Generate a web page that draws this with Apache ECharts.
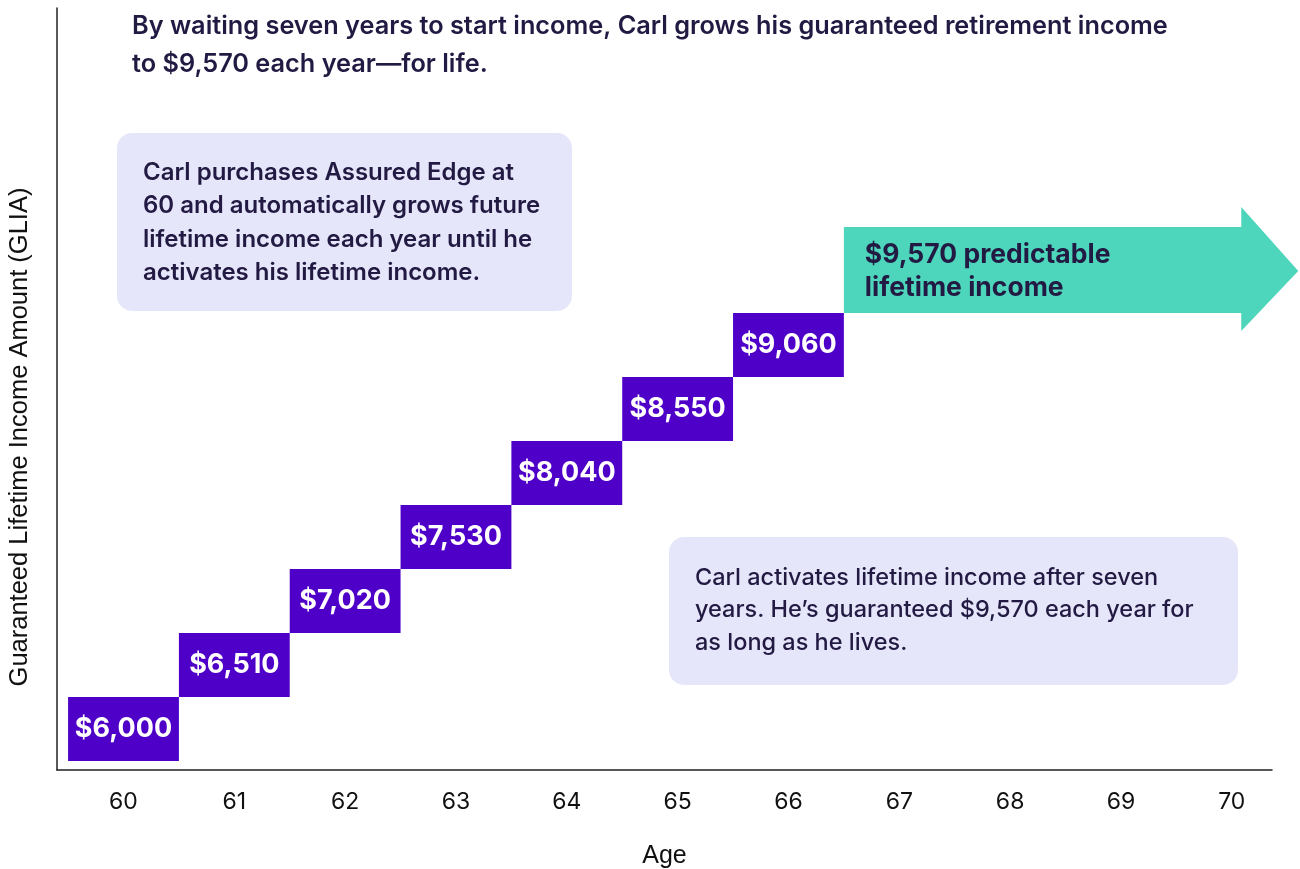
<!DOCTYPE html>
<html>
<head>
<meta charset="utf-8">
<script src="https://cdn.jsdelivr.net/npm/echarts@6/dist/echarts.min.js"></script>
<style>
  html, body { margin: 0; padding: 0; background: #fff; }
  #chart { width: 1300px; height: 869px; }
</style>
</head>
<body>
<div id="chart"></div>
<script>
// ages on the x axis and Carl's guaranteed income at each age
const ages = [60, 61, 62, 63, 64, 65, 66, 67, 68, 69, 70];
const stairAges = [60, 61, 62, 63, 64, 65, 66];
const stairIncome = [6000, 6510, 7020, 7530, 8040, 8550, 9060];
const lifetimeIncome = 9570;

const FONT = 'Inter, "Noto Sans", sans-serif';
const PLAIN = '"Liberation Sans", Arial, sans-serif';
const INK = '#221a42';
const PURPLE = '#4f00c8';
const TEAL = '#4dd6bc';
const LAVENDER = '#e6e6fa';

const fmt = v => '$' + v.toLocaleString('en-US');
const step = stairIncome[1] - stairIncome[0];

const chart = echarts.init(document.getElementById('chart'));

chart.setOption({
  animation: false,
  grid: { left: 57, right: 28, top: 8, bottom: 99, outerBoundsMode: 'none', containLabel: false },
  xAxis: {
    type: 'value',
    min: 59.4,
    max: 70.363,
    name: 'Age',
    nameLocation: 'middle',
    nameGap: 74,
    nameTextStyle: { color: '#111', fontSize: 25, fontFamily: PLAIN },
    axisLine: { show: true, lineStyle: { color: '#222', width: 1.5 } },
    axisTick: { show: false },
    splitLine: { show: false },
    axisLabel: {
      customValues: ages,
      margin: 21,
      color: '#111',
      fontSize: 23,
      fontFamily: FONT
    }
  },
  yAxis: {
    type: 'value',
    min: 5418,
    max: 11490,
    axisLine: { show: true, lineStyle: { color: '#222', width: 1.5 } },
    axisTick: { show: false },
    axisLabel: { show: false },
    splitLine: { show: false }
  },
  series: [
    {
      // stair-step boxes, one per year of deferral
      type: 'custom',
      data: stairAges.map((a, i) => [a, stairIncome[i]]),
      renderItem: (params, api) => {
        const a = api.value(0), v = api.value(1);
        const i = params.dataIndex;
        const prev = i > 0 ? stairIncome[i - 1] : v - step;
        const p1 = api.coord([a - 0.5, v]);
        const p2 = api.coord([a + 0.5, prev]);
        return {
          type: 'rect',
          shape: { x: p1[0], y: p1[1], width: p2[0] - p1[0], height: p2[1] - p1[1] },
          style: { fill: PURPLE },
          textContent: {
            style: { text: fmt(v), fill: '#fff', font: 'bold 27px ' + FONT }
          },
          textConfig: { position: 'inside' }
        };
      }
    },
    {
      // lifetime income arrow starting after the last deferral year
      type: 'custom',
      clip: false,
      data: [[stairAges[stairAges.length - 1] + 1, lifetimeIncome]],
      renderItem: (params, api) => {
        const a = api.value(0);
        const left = api.coord([a - 0.5, 0])[0];
        const tip = api.coord([70.6, 0])[0];
        const bottom = api.coord([0, stairIncome[stairIncome.length - 1]])[1];
        const top = bottom - 86;
        const neck = tip - 57;
        return {
          type: 'group',
          children: [
            {
              type: 'polygon',
              shape: {
                points: [
                  [left, top], [neck, top], [neck, top - 20], [tip, (top + bottom) / 2 + 1],
                  [neck, bottom + 18], [neck, bottom], [left, bottom]
                ]
              },
              style: { fill: TEAL }
            },
            {
              type: 'text',
              x: left + 21,
              y: (top + bottom) / 2 + 2,
              style: {
                text: fmt(api.value(1)) + ' predictable\nlifetime income',
                fill: INK,
                font: 'bold 26.5px ' + FONT,
                lineHeight: 33,
                verticalAlign: 'middle'
              }
            }
          ]
        };
      }
    }
  ],
  graphic: [
    {
      type: 'text',
      left: 132,
      top: 7,
      style: {
        text: 'By waiting seven years to start income, Carl grows his guaranteed retirement income\nto $9,570 each year\u2014for life.',
        fill: INK,
        font: '600 25.3px ' + FONT,
        lineHeight: 38
      }
    },
    {
      type: 'text',
      x: 20,
      y: 437,
      rotation: Math.PI / 2,
      style: {
        text: 'Guaranteed Lifetime Income Amount (GLIA)',
        fill: '#111',
        font: '25.5px ' + PLAIN,
        align: 'center',
        verticalAlign: 'middle'
      }
    },
    {
      type: 'group',
      left: 117,
      top: 133,
      children: [
        { type: 'rect', shape: { x: 0, y: 0, width: 455, height: 178, r: 15 }, style: { fill: LAVENDER } },
        {
          type: 'text', x: 26, y: 90,
          style: {
            text: 'Carl purchases Assured Edge at\n60 and automatically grows future\nlifetime income each year until he\nactivates his lifetime income.',
            fill: INK, font: '600 24px ' + FONT, lineHeight: 33.5, verticalAlign: 'middle'
          }
        }
      ]
    },
    {
      type: 'group',
      left: 669,
      top: 537,
      children: [
        { type: 'rect', shape: { x: 0, y: 0, width: 569, height: 148, r: 15 }, style: { fill: LAVENDER } },
        {
          type: 'text', x: 26, y: 73,
          style: {
            text: 'Carl activates lifetime income after seven\nyears. He\u2019s guaranteed $9,570 each year for\nas long as he lives.',
            fill: INK, font: '500 23.5px ' + FONT, lineHeight: 32.5, verticalAlign: 'middle'
          }
        }
      ]
    }
  ]
});
</script>
</body>
</html>
